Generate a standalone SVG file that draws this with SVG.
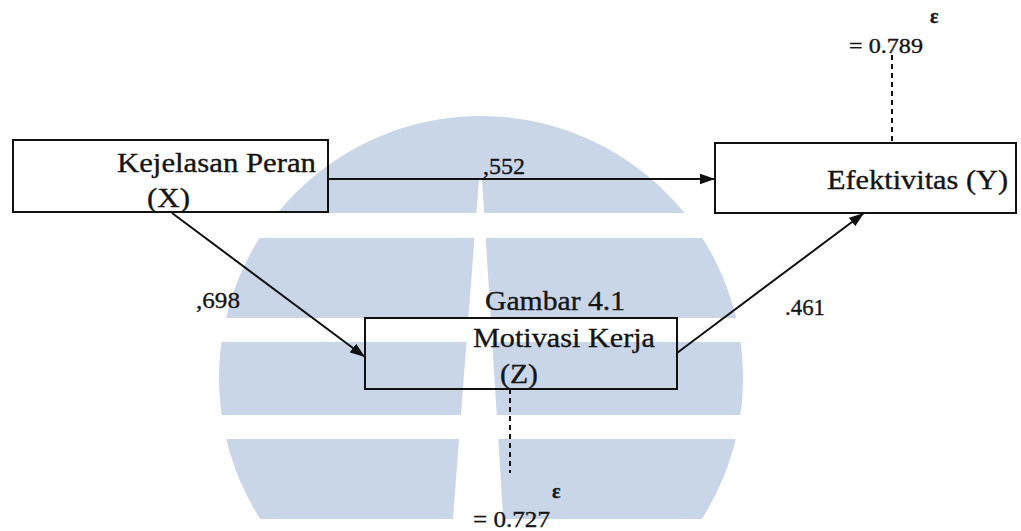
<svg xmlns="http://www.w3.org/2000/svg" width="1021" height="531" viewBox="0 0 1021 531">
<defs>
<style>
.t{font-family:"Liberation Serif","Times New Roman",serif;fill:#151515;stroke:#151515;stroke-width:0.35}
.lbl{font-size:27px}
.num{font-size:24px}
.small{font-size:21px}
.eps{font-size:20px;font-weight:bold}
.box{fill:none;stroke:#111;stroke-width:2}
.edge{fill:none;stroke:#111;stroke-width:2}
.dash{fill:none;stroke:#111;stroke-width:2;stroke-dasharray:5 4}
.wm{fill:#c9d6e8}
</style>
<marker id="ah" viewBox="0 0 14 10" refX="14" refY="5" markerWidth="15" markerHeight="11" markerUnits="userSpaceOnUse" orient="auto"><path d="M0,0 L14,5 L0,10 z" fill="#111"/></marker>
<clipPath id="circ"><circle cx="481" cy="378" r="262"/></clipPath>
</defs>
<rect width="1021" height="531" fill="#fff"/>
<g id="watermark" clip-path="url(#circ)">
<rect class="wm" x="200" y="100" width="600" height="113"/>
<rect class="wm" x="200" y="238" width="600" height="80"/>
<rect class="wm" x="200" y="342" width="600" height="73"/>
<rect class="wm" x="200" y="439" width="600" height="80"/>
<polygon points="479,179 482,179 504,531 452,531" fill="#fff"/>
</g>
<g id="connectors">
<path class="edge" d="M328,179 H715" marker-end="url(#ah)"/>
<path class="edge" d="M172,213 L365,357" marker-end="url(#ah)"/>
<path class="edge" d="M677,353 L864,213" marker-end="url(#ah)"/>
<path class="dash" d="M510,389 V473"/>
<path class="dash" d="M892,55 V142"/>
<text class="t num" x="483" y="174" textLength="42" lengthAdjust="spacingAndGlyphs">,552</text>
<text class="t num" x="196" y="308" textLength="44" lengthAdjust="spacingAndGlyphs">,698</text>
<text class="t num" x="785" y="315" textLength="40" lengthAdjust="spacingAndGlyphs">.461</text>
</g>
<g id="node-x">
<rect class="box" x="13" y="140" width="315" height="72"/>
<text class="t lbl" x="117" y="172" textLength="199" lengthAdjust="spacingAndGlyphs">Kejelasan Peran</text>
<text class="t lbl" x="147" y="207" textLength="43" lengthAdjust="spacingAndGlyphs">(X)</text>
</g>
<g id="node-y">
<rect class="box" x="715" y="143" width="301" height="70"/>
<text class="t lbl" x="827" y="189" textLength="181" lengthAdjust="spacingAndGlyphs">Efektivitas (Y)</text>
</g>
<g id="node-z">
<rect class="box" x="365" y="318" width="312" height="71"/>
<text class="t lbl" x="473" y="347" textLength="182" lengthAdjust="spacingAndGlyphs">Motivasi Kerja</text>
<text class="t lbl" x="500" y="383" textLength="38" lengthAdjust="spacingAndGlyphs">(Z)</text>
</g>
<text id="caption" class="t lbl" x="485" y="310" textLength="140" lengthAdjust="spacingAndGlyphs">Gambar 4.1</text>
<g id="error-y">
<text class="t small" x="849" y="53" textLength="74" lengthAdjust="spacingAndGlyphs">= 0.789</text>
<text class="t eps" x="930" y="23">ε</text>
</g>
<g id="error-z">
<text class="t num" x="473" y="527" textLength="77" lengthAdjust="spacingAndGlyphs">= 0.727</text>
<text class="t eps" x="552" y="498">ε</text>
</g>
</svg>
